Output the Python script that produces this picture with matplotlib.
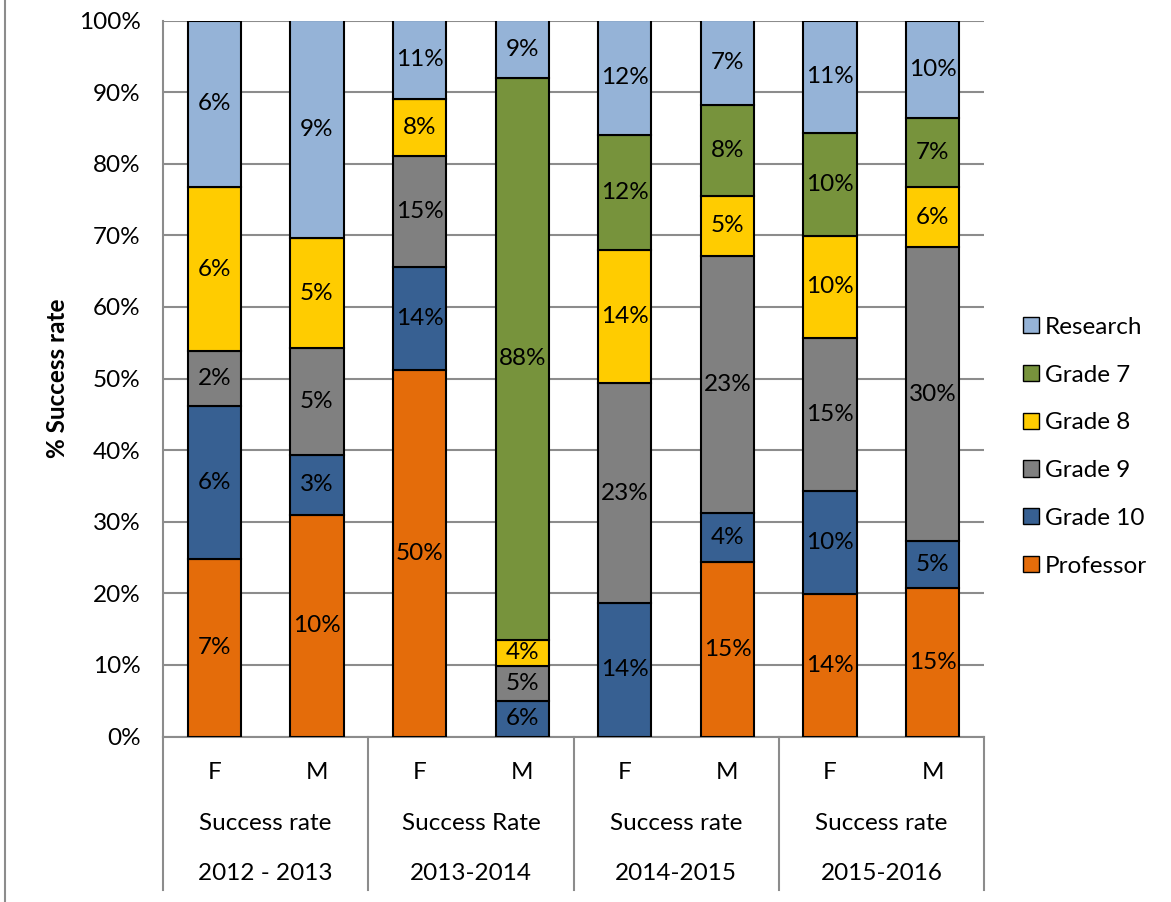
import matplotlib
matplotlib.use('Agg')
import matplotlib.pyplot as plt
from matplotlib.lines import Line2D
from matplotlib.patches import Patch
import numpy as np

plt.rcParams['font.family'] = ['Lato', 'DejaVu Sans']

# category rows of the x axis
years = ['2012 - 2013', '2013-2014', '2014-2015', '2015-2016']
subtitles = ['Success rate', 'Success Rate', 'Success rate', 'Success rate']
genders = ['F', 'M', 'F', 'M', 'F', 'M', 'F', 'M']

series = ['Professor', 'Grade 10', 'Grade 9', 'Grade 8', 'Grade 7', 'Research']
colors = ['#E46C0A', '#376092', '#808080', '#FFCC00', '#77933C', '#95B3D7']

# success rates (%) per bar, stacked as 100% shares
professor = [6.8, 9.6, 50.1, 0, 0, 15.3, 13.9, 15.1]
grade10 = [5.9, 2.6, 14.2, 5.6, 14.0, 4.3, 10.1, 4.8]
grade9 = [2.1, 4.6, 15.2, 5.4, 23.0, 22.6, 15.0, 30.0]
grade8 = [6.3, 4.8, 7.7, 4.1, 14.0, 5.3, 9.9, 6.1]
grade7 = [0, 0, 0, 87.8, 12.0, 8.0, 10.1, 7.1]
research = [6.4, 9.4, 10.8, 9.0, 12.0, 7.4, 11.0, 9.9]

vals = np.array([professor, grade10, grade9, grade8, grade7, research])
shares = vals / vals.sum(axis=0) * 100

FS = 17.5
GRID = '#8c8c8c'

fig = plt.figure(figsize=(11.71, 9.02), dpi=100)
ax = fig.add_axes([163 / 1171, 1 - 736.5 / 902, 821 / 1171, 716 / 902])

x = np.arange(len(genders))
bottom = np.zeros(len(genders))
for i, name in enumerate(series):
    h = shares[i]
    ax.bar(x, h, bottom=bottom, width=0.52, color=colors[i],
           edgecolor='black', linewidth=1.5, zorder=3, label=name)
    for xi, hi, bi, v in zip(x, h, bottom, vals[i]):
        if v > 0:
            ax.text(xi, bi + hi / 2, f'{int(round(v))}%', ha='center',
                    va='center', fontsize=FS, zorder=4)
    bottom += h

ax.set_xlim(-0.5, 7.5)
ax.set_ylim(0, 100)
ax.set_yticks(np.arange(0, 101, 10))
ax.set_yticklabels([f'{t}%' for t in range(0, 101, 10)])
ax.tick_params(axis='y', length=0, pad=16, labelsize=FS)
ax.set_xticks([])
ax.set_axisbelow(True)
ax.yaxis.grid(True, color=GRID, linewidth=1.5)

for s in ['top', 'right']:
    ax.spines[s].set_visible(False)
for s in ['left', 'bottom']:
    ax.spines[s].set_color(GRID)
    ax.spines[s].set_linewidth(1.5)

ax.set_ylabel('% Success rate', fontsize=FS, fontweight='bold')
ax.yaxis.set_label_coords(-0.115, 0.5)

# multi-level category axis
tr = ax.get_xaxis_transform()
for xi, g in zip(x, genders):
    ax.text(xi, -0.0496, g, transform=tr, ha='center', va='center', fontsize=FS)
for k in range(4):
    xc = 2 * k + 0.5
    ax.text(xc, -0.121, subtitles[k], transform=tr, ha='center', va='center', fontsize=FS)
    ax.text(xc, -0.191, years[k], transform=tr, ha='center', va='center', fontsize=FS)
for xd in [-0.5, 1.5, 3.5, 5.5, 7.5]:
    ax.add_line(Line2D([xd, xd], [0, -0.214], transform=tr, color=GRID,
                       linewidth=1.5, clip_on=False))

# outer chart border on the left
fig.add_artist(Line2D([5 / 1171, 5 / 1171], [0, 1], color=GRID, linewidth=1.5))

handles = [Patch(facecolor=c, edgecolor='black', label=s)
           for s, c in zip(series[::-1], colors[::-1])]
fig.legend(handles=handles, loc='center left', bbox_to_anchor=(1023 / 1171, 0.5048),
           frameon=False, fontsize=FS, handlelength=0.65, handleheight=0.65,
           handletextpad=0.25, labelspacing=1.1, borderpad=0, borderaxespad=0)

fig.savefig('out.png', dpi=100)
